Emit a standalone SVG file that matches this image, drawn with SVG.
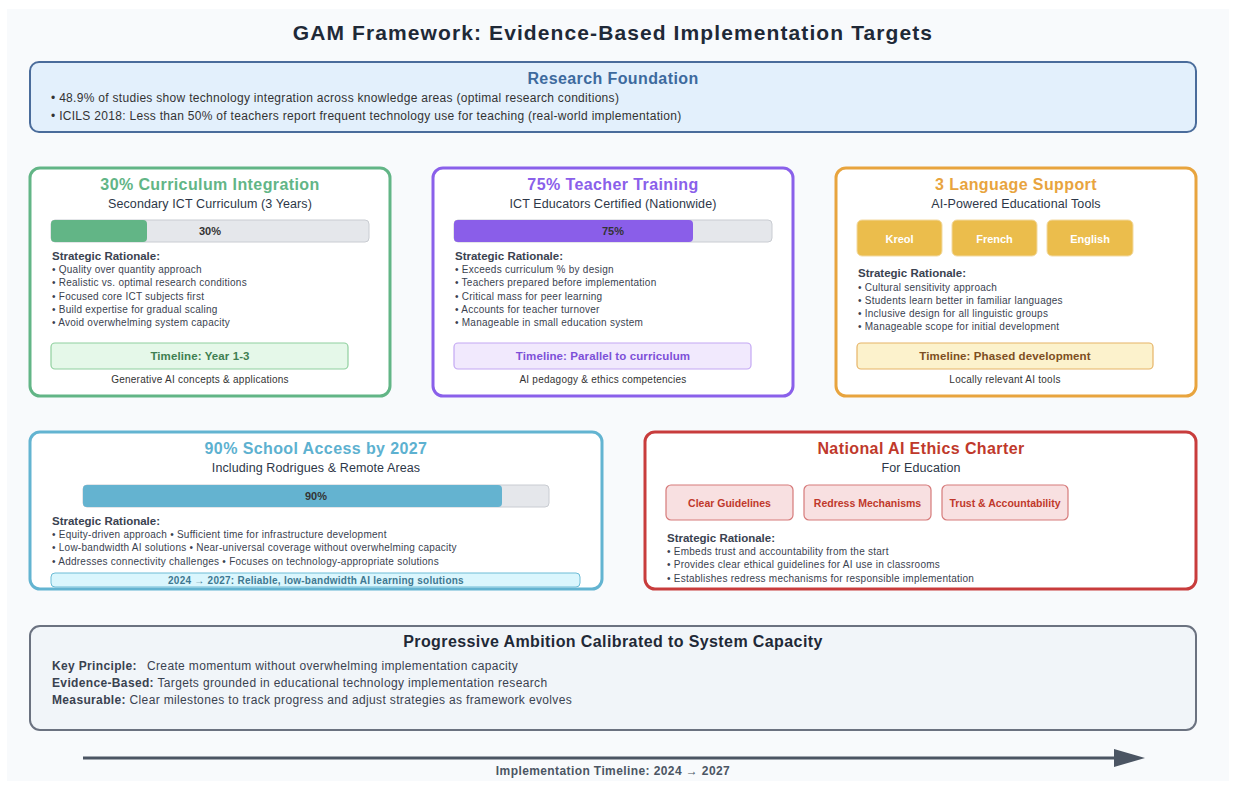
<svg xmlns="http://www.w3.org/2000/svg" width="1236" height="789" viewBox="0 0 1236 789">
<defs>
<style>
text{font-family:"Liberation Sans",Arial,sans-serif;fill:#333}
.t{font-size:16px;font-weight:bold;text-anchor:middle;letter-spacing:0.4px}
.sub{font-size:12.5px;text-anchor:middle;fill:#2d3748;letter-spacing:0.1px}
.b{font-size:10px;fill:#3a4250;letter-spacing:0.25px}
.sr{font-size:11.5px;font-weight:bold;fill:#3a4250}
.card{fill:#fff;stroke-width:3}
.track{fill:#e5e7eb;stroke:#c9ccd2;stroke-width:1}
.pct{font-size:11px;font-weight:bold;text-anchor:middle;fill:#333}
.tl{font-size:11.5px;font-weight:bold;text-anchor:middle;letter-spacing:0.1px}
.note{font-size:10px;text-anchor:middle;fill:#333;letter-spacing:0.25px}
.lang{fill:#ebbd4c;stroke:#f2d9a0;stroke-width:1}
.langt{font-size:11px;font-weight:bold;fill:#fff;text-anchor:middle}
.eth{fill:#f8e0e1;stroke:#d67a7a;stroke-width:1.2}
.etht{font-size:10.5px;font-weight:bold;fill:#c0392b;text-anchor:middle}
.kp{font-size:12px;fill:#3a4250;letter-spacing:0.35px}
</style>
</defs>
<rect x="0" y="0" width="1236" height="789" fill="#fff"/>
<rect x="7" y="9" width="1222" height="772" fill="#f8fafc"/>

<text x="613" y="40" style="font-size:21px;font-weight:bold;text-anchor:middle;fill:#1f2937;letter-spacing:1.1px">GAM Framework: Evidence-Based Implementation Targets</text>

<g id="research">
<rect x="30" y="62" width="1166" height="70" rx="9" fill="#e3f0fc" stroke="#4a6c9b" stroke-width="2"/>
<text x="613" y="84" class="t" style="fill:#3d6a9e">Research Foundation</text>
<text x="51" y="102" style="font-size:12px;fill:#333;letter-spacing:0.3px">• 48.9% of studies show technology integration across knowledge areas (optimal research conditions)</text>
<text x="51" y="120" style="font-size:12px;fill:#333;letter-spacing:0.3px">• ICILS 2018: Less than 50% of teachers report frequent technology use for teaching (real-world implementation)</text>
</g>

<g id="curriculum">
<rect x="30" y="168" width="360" height="228" rx="10" class="card" stroke="#62b586"/>
<text x="210" y="190" class="t" style="fill:#62b586">30% Curriculum Integration</text>
<text x="210" y="208" class="sub">Secondary ICT Curriculum (3 Years)</text>
<rect x="51" y="220" width="318" height="22" rx="4" class="track"/>
<rect x="51" y="220" width="96" height="22" rx="4" fill="#62b586"/>
<text x="210" y="235" class="pct">30%</text>
<text x="52" y="260" class="sr">Strategic Rationale:</text>
<text x="52" y="273" class="b">• Quality over quantity approach</text>
<text x="52" y="286" class="b">• Realistic vs. optimal research conditions</text>
<text x="52" y="300" class="b">• Focused core ICT subjects first</text>
<text x="52" y="313" class="b">• Build expertise for gradual scaling</text>
<text x="52" y="326" class="b">• Avoid overwhelming system capacity</text>
<rect x="51" y="343" width="297" height="26" rx="4" fill="#e5f8e9" stroke="#90d09f" stroke-width="1.2"/>
<text x="200" y="360" class="tl" style="fill:#3f7f52">Timeline: Year 1-3</text>
<text x="200" y="383" class="note">Generative AI concepts &amp; applications</text>
</g>

<g id="teacher">
<rect x="433" y="168" width="360" height="228" rx="10" class="card" stroke="#8a60ea"/>
<text x="613" y="190" class="t" style="fill:#8a60ea">75% Teacher Training</text>
<text x="613" y="208" class="sub">ICT Educators Certified (Nationwide)</text>
<rect x="454" y="220" width="318" height="22" rx="4" class="track"/>
<rect x="454" y="220" width="239" height="22" rx="4" fill="#8a5ee9"/>
<text x="613" y="235" class="pct">75%</text>
<text x="455" y="260" class="sr">Strategic Rationale:</text>
<text x="455" y="273" class="b">• Exceeds curriculum % by design</text>
<text x="455" y="286" class="b">• Teachers prepared before implementation</text>
<text x="455" y="300" class="b">• Critical mass for peer learning</text>
<text x="455" y="313" class="b">• Accounts for teacher turnover</text>
<text x="455" y="326" class="b">• Manageable in small education system</text>
<rect x="454" y="343" width="297" height="26" rx="4" fill="#f1e9fd" stroke="#c4a8f3" stroke-width="1.2"/>
<text x="603" y="360" class="tl" style="fill:#7d50d8">Timeline: Parallel to curriculum</text>
<text x="603" y="383" class="note">AI pedagogy &amp; ethics competencies</text>
</g>

<g id="language">
<rect x="836" y="168" width="360" height="228" rx="10" class="card" stroke="#e8a43e"/>
<text x="1016" y="190" class="t" style="fill:#e8a43e">3 Language Support</text>
<text x="1016" y="208" class="sub">AI-Powered Educational Tools</text>
<rect x="857" y="220" width="85" height="36" rx="5" class="lang"/>
<text x="899.5" y="243" class="langt">Kreol</text>
<rect x="952" y="220" width="85" height="36" rx="5" class="lang"/>
<text x="994.5" y="243" class="langt">French</text>
<rect x="1047" y="220" width="86" height="36" rx="5" class="lang"/>
<text x="1090" y="243" class="langt">English</text>
<text x="858" y="277" class="sr">Strategic Rationale:</text>
<text x="858" y="291" class="b">• Cultural sensitivity approach</text>
<text x="858" y="304" class="b">• Students learn better in familiar languages</text>
<text x="858" y="317" class="b">• Inclusive design for all linguistic groups</text>
<text x="858" y="330" class="b">• Manageable scope for initial development</text>
<rect x="857" y="343" width="296" height="26" rx="4" fill="#fcf2cc" stroke="#e6b467" stroke-width="1.2"/>
<text x="1005" y="360" class="tl" style="fill:#7d4e22">Timeline: Phased development</text>
<text x="1005" y="383" class="note">Locally relevant AI tools</text>
</g>

<g id="access">
<rect x="30" y="432" width="572" height="157" rx="10" class="card" stroke="#63b4d1"/>
<text x="316" y="454" class="t" style="fill:#5db1d0">90% School Access by 2027</text>
<text x="316" y="472" class="sub">Including Rodrigues &amp; Remote Areas</text>
<rect x="83" y="485" width="466" height="22" rx="4" class="track"/>
<rect x="83" y="485" width="419" height="22" rx="4" fill="#64b3d0"/>
<text x="316" y="500" class="pct">90%</text>
<text x="52" y="525" class="sr">Strategic Rationale:</text>
<text x="52" y="538" class="b">• Equity-driven approach • Sufficient time for infrastructure development</text>
<text x="52" y="551" class="b">• Low-bandwidth AI solutions • Near-universal coverage without overwhelming capacity</text>
<text x="52" y="565" class="b">• Addresses connectivity challenges • Focuses on technology-appropriate solutions</text>
<rect x="51" y="573" width="529" height="14" rx="4" fill="#daf6fd" stroke="#6cbcd6" stroke-width="1"/>
<text x="316" y="583.5" style="font-size:10px;font-weight:bold;text-anchor:middle;fill:#3e7891;letter-spacing:0.25px">2024 → 2027: Reliable, low-bandwidth AI learning solutions</text>
</g>

<g id="ethics">
<rect x="645" y="432" width="551" height="157" rx="10" class="card" stroke="#c83c3c"/>
<text x="921" y="454" class="t" style="fill:#c0392b">National AI Ethics Charter</text>
<text x="921" y="472" class="sub">For Education</text>
<rect x="666" y="485" width="127" height="35" rx="5" class="eth"/>
<text x="729.5" y="507" class="etht">Clear Guidelines</text>
<rect x="804" y="485" width="127" height="35" rx="5" class="eth"/>
<text x="867.5" y="507" class="etht">Redress Mechanisms</text>
<rect x="942" y="485" width="126" height="35" rx="5" class="eth"/>
<text x="1005" y="507" class="etht">Trust &amp; Accountability</text>
<text x="667" y="542" class="sr">Strategic Rationale:</text>
<text x="667" y="555" class="b">• Embeds trust and accountability from the start</text>
<text x="667" y="568" class="b">• Provides clear ethical guidelines for AI use in classrooms</text>
<text x="667" y="582" class="b">• Establishes redress mechanisms for responsible implementation</text>
</g>

<g id="principle">
<rect x="30" y="626" width="1166" height="104" rx="10" fill="#f1f5f9" stroke="#6b7280" stroke-width="2"/>
<text x="613" y="647" class="t" style="fill:#1f2937">Progressive Ambition Calibrated to System Capacity</text>
<text x="52" y="670" class="kp"><tspan font-weight="bold">Key Principle:</tspan><tspan x="147">Create momentum without overwhelming implementation capacity</tspan></text>
<text x="52" y="687" class="kp"><tspan font-weight="bold">Evidence-Based:</tspan> Targets grounded in educational technology implementation research</text>
<text x="52" y="704" class="kp"><tspan font-weight="bold">Measurable:</tspan> Clear milestones to track progress and adjust strategies as framework evolves</text>
</g>

<g id="connectors">
<line x1="83" y1="758" x2="1116" y2="758" stroke="#4b5563" stroke-width="3"/>
<path d="M1114,749 L1145,758 L1114,767 Z" fill="#4b5563"/>
</g>
<text x="613" y="775" style="font-size:12px;font-weight:bold;text-anchor:middle;fill:#4b5563;letter-spacing:0.4px">Implementation Timeline: 2024 → 2027</text>
</svg>
